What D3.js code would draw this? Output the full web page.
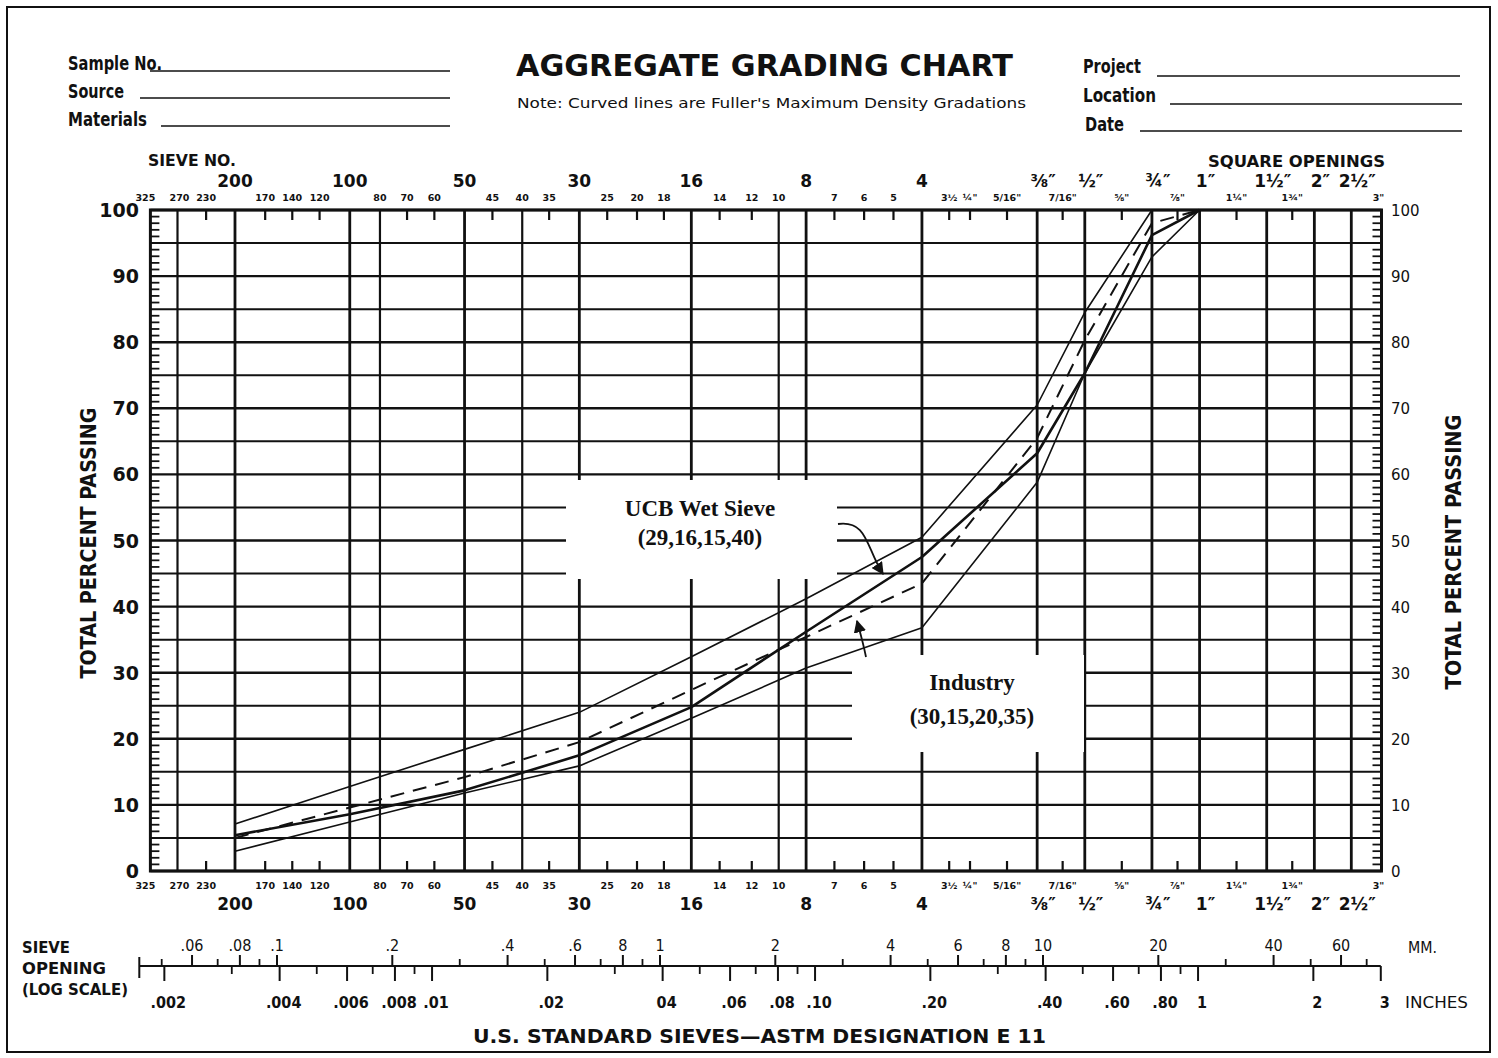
<!DOCTYPE html>
<html><head><meta charset="utf-8">
<script src="https://cdn.jsdelivr.net/npm/d3@7"></script>
<style>
body{margin:0;background:#fff;}
svg text{font-family:"DejaVu Sans Condensed","DejaVu Sans",sans-serif;font-weight:bold;fill:#111;}
</style></head><body><svg id="c" width="1498" height="1058"></svg>
<script>
// ---------- data ----------
const sieveLabels = ["200","100","50","30","16","8","4","⅜\"","½\"","¾\"","1\""];
const sieveMm = [0.075,0.15,0.3,0.6,1.18,2.36,4.75,9.525,12.7,19.05,25.4];
const upperLimit  = [7.1,12.8,18.4,24.0,32.4,41.2,50.5,70.5,84.5,100,100];
const ucbWetSieve = [5.4,8.6,12.2,17.5,24.8,36.2,47.5,63.2,75.3,96.2,100];
const industry    = [5.0,9.6,14.2,19.5,27.4,35.4,43.5,65.5,80.3,98.0,100];
const lowerLimit  = [3.0,7.4,11.8,15.9,23.1,30.7,36.8,58.8,75.3,92.9,100];

const majorSieveLabels = ["200","100","50","30","16","8","4","⅜\u2033","½\u2033","¾\u2033","1\u2033","1½\u2033","2\u2033","2½\u2033"];
const majorSieveMm = [0.075,0.15,0.3,0.6,1.18,2.36,4.75,9.525,12.7,19.05,25.4,38.1,50.8,63.5];
const lineSieveLabels = ["270","80","40","10"];
const lineSieveMm = [0.053,0.18,0.425,2.0];
const tickSieveLabels = ["230","170","140","120","70","60","45","35","25","20","18","14","12","7","6","5","3½","¼\"","5/16\"","7/16\"","⅝\"","⅞\"","1¼\"","1¾\""];
const tickSieveMm = [0.063,0.09,0.106,0.125,0.212,0.25,0.355,0.5,0.71,0.85,1.0,1.4,1.7,2.8,3.35,4.0,5.6,6.35,7.94,11.11,15.88,22.23,31.75,44.45];
const edgeSieveLabels = ["325","3\""];
const edgeSieveMm = [0.045,76.2];
const percentLabels = [0,10,20,30,40,50,60,70,80,90,100];
const mmTickLabels = [".06",".08",".1",".2",".4",".6","8","1","2","4","6","8","10","20","40","60"];
const mmTickValues = [0.06,0.08,0.1,0.2,0.4,0.6,0.8,1,2,4,6,8,10,20,40,60];
const inchTickLabels = [".002",".004",".006",".008",".01",".02","04",".06",".08",".10",".20",".40",".60",".80","1","2","3"];
const inchTickValues = [0.002,0.004,0.006,0.008,0.01,0.02,0.04,0.06,0.08,0.1,0.2,0.4,0.6,0.8,1,2,3];

// ---------- setup ----------
const svg = d3.select("#c");
svg.append("rect").attr("width",1498).attr("height",1058).attr("fill","#fff");
const ink = "#111";
const x = d3.scaleLog().domain([0.045, 76.2]).range([150.4, 1381.5]);
const y = d3.scaleLinear().domain([0, 100]).range([871, 210]);
const mmScale = d3.scaleLog().domain([0.1, 10]).range([277, 1043]);
const X0 = x.range()[0], X1 = x.range()[1], Y0 = y(0), Y1 = y(100);

// page frame
svg.append("rect").attr("x",7).attr("y",7).attr("width",1483).attr("height",1045)
  .attr("fill","none").attr("stroke",ink).attr("stroke-width",2);

// ---------- header ----------
function txt(s, xx, yy, size, opts={}) {
  const t = svg.append("text").attr("x",xx).attr("y",yy).attr("font-size",size).text(s);
  if (opts.anchor) t.attr("text-anchor",opts.anchor);
  if (opts.len) t.attr("textLength",opts.len).attr("lengthAdjust","spacingAndGlyphs");
  if (opts.family) t.style("font-family",opts.family);
  if (opts.weight) t.style("font-weight",opts.weight);
  return t;
}
function hline(x1,x2,yy,w){svg.append("line").attr("x1",x1).attr("x2",x2).attr("y1",yy).attr("y2",yy).attr("stroke",ink).attr("stroke-width",w);}
txt("Sample No.",68,70,20,{len:94}); hline(150,450,71,1.6);
txt("Source",68,98,20,{len:56}); hline(140,450,98,1.6);
txt("Materials",68,126,20,{len:79}); hline(161,450,126,1.6);
txt("Project",1083,73,20,{len:58}); hline(1157,1460,76,1.6);
txt("Location",1083,102,20,{len:73}); hline(1170,1462,104,1.6);
txt("Date",1085,131,20,{len:39}); hline(1140,1462,131,1.6);
txt("AGGREGATE GRADING CHART",516,76,31,{len:497,family:"'DejaVu Sans',sans-serif"});
txt("Note: Curved lines are Fuller's Maximum Density Gradations",517,108,14,{len:509,weight:"normal"});
txt("SIEVE NO.",148,166,15,{len:88});
txt("SQUARE OPENINGS",1208,167,15,{len:177});

// ---------- grid ----------
const g = svg.append("g");
d3.range(0,101,5).forEach(v=>{
  g.append("line").attr("x1",X0).attr("x2",X1).attr("y1",y(v)).attr("y2",y(v))
   .attr("stroke",ink).attr("stroke-width", v%10===0?2.4:2);
});
d3.range(0,100,1).filter(v=>v%5!==0).forEach(v=>{
  g.append("line").attr("x1",X0).attr("x2",X0+9).attr("y1",y(v)).attr("y2",y(v)).attr("stroke",ink).attr("stroke-width",1.8);
  g.append("line").attr("x1",X1-9).attr("x2",X1).attr("y1",y(v)).attr("y2",y(v)).attr("stroke",ink).attr("stroke-width",1.8);
});
majorSieveMm.forEach(m=>{
  g.append("line").attr("x1",x(m)).attr("x2",x(m)).attr("y1",Y1).attr("y2",Y0).attr("stroke",ink).attr("stroke-width",2.8);
});
lineSieveMm.forEach(m=>{
  g.append("line").attr("x1",x(m)).attr("x2",x(m)).attr("y1",Y1).attr("y2",Y0).attr("stroke",ink).attr("stroke-width",2.2);
});
tickSieveMm.forEach(m=>{
  g.append("line").attr("x1",x(m)).attr("x2",x(m)).attr("y1",Y1).attr("y2",Y1+10).attr("stroke",ink).attr("stroke-width",2.2);
  g.append("line").attr("x1",x(m)).attr("x2",x(m)).attr("y1",Y0-10).attr("y2",Y0).attr("stroke",ink).attr("stroke-width",2.2);
});
g.append("rect").attr("x",X0).attr("y",Y1).attr("width",X1-X0).attr("height",Y0-Y1)
 .attr("fill","none").attr("stroke",ink).attr("stroke-width",3);

// sieve labels top & bottom
const smallLabels = [].concat(
  edgeSieveLabels.map((l,i)=>({l,m:edgeSieveMm[i]})),
  lineSieveLabels.map((l,i)=>({l,m:lineSieveMm[i]})),
  tickSieveLabels.map((l,i)=>({l,m:tickSieveMm[i]})));
smallLabels.forEach(d=>{
  let xx = x(d.m); if (d.m===0.045) xx -= 5; if (d.m===0.053) xx += 2; if (d.m===76.2) xx -= 3;
  txt(d.l, xx, 201, 9.5, {anchor:"middle",family:"'DejaVu Sans',sans-serif"});
  txt(d.l, xx, 889, 9.5, {anchor:"middle",family:"'DejaVu Sans',sans-serif"});
});
majorSieveLabels.forEach((l,i)=>{
  const off = i>=7 ? 6 : 0;
  txt(l, x(majorSieveMm[i])+off, 187, 17, {anchor:"middle",family:"'DejaVu Sans',sans-serif"});
  txt(l, x(majorSieveMm[i])+off, 910, 17, {anchor:"middle",family:"'DejaVu Sans',sans-serif"});
});

// y labels
percentLabels.forEach(v=>{
  txt(String(v), 139, y(v)+7, 19, {anchor:"end",family:"'DejaVu Sans',sans-serif"});
  txt(String(v), 1391, y(v)+6, 15, {family:"'DejaVu Sans',sans-serif",weight:"normal"});
});
svg.append("text").attr("transform","translate(96,543) rotate(-90)").attr("text-anchor","middle")
  .attr("font-size",21).attr("textLength",271).attr("lengthAdjust","spacingAndGlyphs").text("TOTAL PERCENT PASSING");
svg.append("text").attr("transform","translate(1461,552) rotate(-90)").attr("text-anchor","middle")
  .attr("font-size",21).attr("textLength",275).attr("lengthAdjust","spacingAndGlyphs").text("TOTAL PERCENT PASSING");

// ---------- label boxes ----------
svg.append("rect").attr("x",566).attr("y",480).attr("width",271).attr("height",99).attr("fill","#fff");
svg.append("rect").attr("x",852).attr("y",655).attr("width",232).attr("height",97).attr("fill","#fff");

// ---------- curves ----------
const line = d3.line().x(d=>x(d[0])).y(d=>y(d[1]));
function series(vals, w, dash) {
  const pts = sieveMm.map((m,i)=>[m, vals[i]]).filter(d=>d[1]!=null);
  const p = svg.append("path").datum(pts).attr("d",line).attr("fill","none")
    .attr("stroke",ink).attr("stroke-width",w).attr("stroke-linejoin","round");
  if (dash) p.attr("stroke-dasharray",dash);
}
series(upperLimit, 1.6);
series(lowerLimit, 1.6);
series(ucbWetSieve, 2.6);
series(industry, 2, "14,9");

// annotations
const tnr = "'Liberation Serif','Times New Roman',serif";
txt("UCB Wet Sieve", 700, 516, 23, {anchor:"middle",family:tnr});
txt("(29,16,15,40)", 700, 545, 23, {anchor:"middle",family:tnr});
txt("Industry", 972, 690, 23, {anchor:"middle",family:tnr});
txt("(30,15,20,35)", 972, 724, 23, {anchor:"middle",family:tnr});
const defs = svg.append("defs");
defs.append("marker").attr("id","ah").attr("viewBox","0 0 10 10").attr("refX",9).attr("refY",5)
  .attr("markerWidth",7).attr("markerHeight",7).attr("orient","auto")
  .append("path").attr("d","M0,0 L10,5 L0,10 z").attr("fill",ink);
svg.append("path").attr("d","M838,524 C868,520 866,548 883,574").attr("fill","none").attr("stroke",ink)
  .attr("stroke-width",1.8).attr("marker-end","url(#ah)");
svg.append("path").attr("d","M866,657 C863,642 860,632 857,621").attr("fill","none").attr("stroke",ink)
  .attr("stroke-width",1.8).attr("marker-end","url(#ah)");

// ---------- bottom log scale ----------
const AY = 966;
const axStart = mmScale(0.0437), axEnd = mmScale(76.2);
hline(axStart, axEnd, AY, 2.2);
svg.append("line").attr("x1",axStart).attr("x2",axStart).attr("y1",AY-9).attr("y2",AY+12).attr("stroke",ink).attr("stroke-width",2);
const mmMinor = d3.scaleLog().domain([0.045, 76]).ticks().filter(v=>!mmTickValues.some(t=>Math.abs(t-v)<1e-9));
mmMinor.forEach(v=>{
  svg.append("line").attr("x1",mmScale(v)).attr("x2",mmScale(v)).attr("y1",AY-7).attr("y2",AY).attr("stroke",ink).attr("stroke-width",1.8);
});
mmTickValues.forEach((v,i)=>{
  svg.append("line").attr("x1",mmScale(v)).attr("x2",mmScale(v)).attr("y1",AY-11).attr("y2",AY).attr("stroke",ink).attr("stroke-width",2);
  txt(mmTickLabels[i], mmScale(v), 951, 16, {anchor:"middle",weight:"normal"});
});
const inMinor = d3.scaleLog().domain([0.0018, 3]).ticks().filter(v=>!inchTickValues.some(t=>Math.abs(t-v)<1e-9));
inMinor.forEach(v=>{
  svg.append("line").attr("x1",mmScale(v*25.4)).attr("x2",mmScale(v*25.4)).attr("y1",AY).attr("y2",AY+8).attr("stroke",ink).attr("stroke-width",1.8);
});
inchTickValues.forEach((v,i)=>{
  svg.append("line").attr("x1",mmScale(v*25.4)).attr("x2",mmScale(v*25.4)).attr("y1",AY).attr("y2",AY+15).attr("stroke",ink).attr("stroke-width",2);
  txt(inchTickLabels[i], mmScale(v*25.4)+4, 1008, 16, {anchor:"middle"});
});
txt("MM.",1408,953,15,{weight:"normal",len:29});
txt("INCHES",1405,1008,15,{weight:"normal",len:63});
txt("SIEVE",22,953,15,{len:48});
txt("OPENING",22,974,15,{len:84});
txt("(LOG SCALE)",22,995,15,{len:106});
txt("U.S. STANDARD SIEVES\u2014ASTM DESIGNATION E 11",473,1043,20,{len:573});
</script></body></html>
